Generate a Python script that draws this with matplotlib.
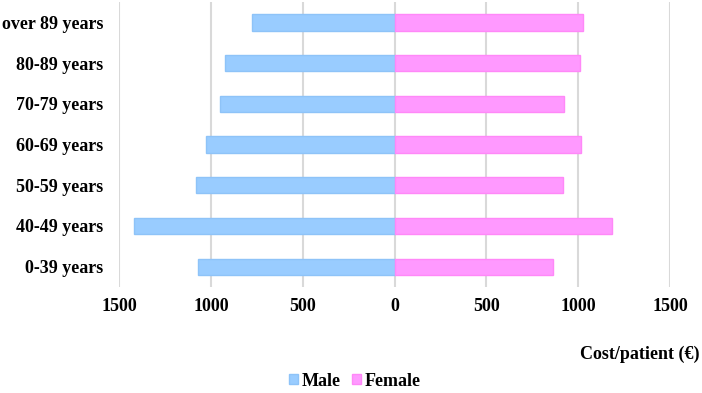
import matplotlib.pyplot as plt
import numpy as np

plt.rcParams['font.family'] = ['Liberation Serif', 'DejaVu Serif']
plt.rcParams['font.weight'] = 'bold'

# age groups, bottom to top
age_groups = ["0-39 years", "40-49 years", "50-59 years", "60-69 years",
              "70-79 years", "80-89 years", "over 89 years"]
male_cost = [1069, 1418, 1080, 1025, 949, 921, 774]
female_cost = [862, 1183, 918, 1016, 923, 1012, 1029]
tick_values = [-1500, -1000, -500, 0, 500, 1000, 1500]

W, H = 702, 393
fig = plt.figure(figsize=(W / 100, H / 100), dpi=100)
ax = fig.add_axes([119 / W, (H - 287) / H, (670 - 119) / W, (287 - 2) / H])

y = np.arange(len(age_groups))
ax.barh(y, -np.array(male_cost), height=0.4, color="#99CCFF",
        edgecolor="#8EC3F8", linewidth=1, label="Male", zorder=3)
ax.barh(y, female_cost, height=0.4, color="#FF99FF",
        edgecolor="#FF88F8", linewidth=1, label="Female", zorder=3)

ax.set_xlim(-1500, 1500)
ax.set_ylim(-0.5, len(age_groups) - 0.5)
ax.set_xticks(tick_values)
ax.set_xticklabels([str(abs(v)) for v in tick_values], fontsize=13, fontweight="bold")
ax.set_yticks(y)
ax.set_yticklabels(age_groups, fontsize=13, fontweight="bold")
ax.tick_params(axis="both", length=0)
ax.tick_params(axis="x", pad=8)
ax.tick_params(axis="y", pad=11)
ax.grid(axis="x", color="#D9D9D9", linewidth=1.5, zorder=0)
for s in ax.spines.values():
    s.set_visible(False)

fig.text(700 / W, 1 - 354 / H, "Cost/patient (\u20ac)", ha="right", va="center",
         fontsize=13, fontweight="bold")

handles, labels = ax.get_legend_handles_labels()
fig.legend(handles, labels, loc="center", bbox_to_anchor=(355 / W, 1 - 381 / H),
           ncol=2, frameon=False, fontsize=13, handlelength=0.5, handleheight=0.5,
           handletextpad=0.2, columnspacing=0.6, borderpad=0)

fig.savefig("out.png", dpi=100)
